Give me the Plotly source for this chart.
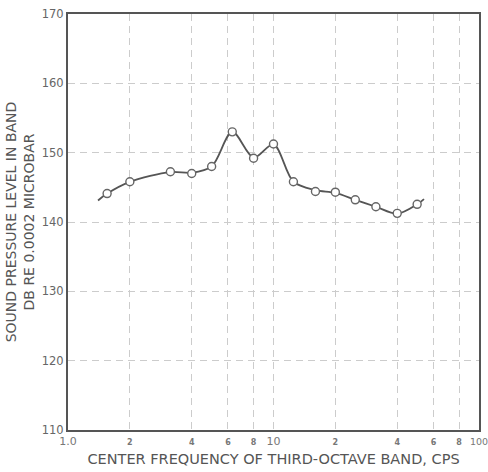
import plotly.graph_objects as go

# Measured third-octave band data
freq = [1.55, 2, 3.15, 4, 5, 6.3, 8, 10, 12.5, 16, 20, 25, 31.5, 40, 50]
spl = [144.1, 145.8, 147.25, 147.0, 148.0, 153.0, 149.2, 151.25, 145.8, 144.4, 144.3, 143.2, 142.2, 141.25, 142.55]

# Faired curve through the data (with its drawn ends)
curve_freq = [1.4, 1.55, 2, 3.15, 4, 5, 6.3, 8, 10, 12.5, 16, 20, 25, 31.5, 40, 50, 54]
curve_spl = [143.1, 144.1, 145.8, 147.2, 147.1, 148.0, 153.0, 149.3, 151.2, 145.8, 144.6, 144.2, 143.2, 142.2, 141.2, 142.55, 143.3]

x_tickvals = [1, 2, 4, 6, 8, 10, 20, 40, 60, 80, 100]
x_ticktext = ["1.0", "2", "4", "6", "8", "10", "2", "4", "6", "8", "100"]
y_tickvals = [110, 120, 130, 140, 150, 160, 170]

FONT = "DejaVu Sans"
INK = "#555555"
GRID = "#cccccc"

small = lambda t: f"<span style='font-size:8px;font-weight:bold'>{t}</span>"
def fmt(t):
    if t == "100":
        return "<span style='font-size:9.5px'>100</span>"
    if t in ("1.0", "10"):
        return t
    return small(t)
xt = [fmt(t) for t in x_ticktext]

fig = go.Figure()
fig.add_trace(go.Scatter(
    x=curve_freq, y=curve_spl, mode="lines",
    line=dict(color=INK, width=1.8, shape="spline", smoothing=0.9),
    hoverinfo="skip", showlegend=False))
fig.add_trace(go.Scatter(
    x=freq, y=spl, mode="markers",
    marker=dict(symbol="circle", size=8, color="white",
                line=dict(color="#666666", width=1.4)),
    showlegend=False))

fig.update_layout(
    width=488, height=472,
    margin=dict(l=68, r=9, t=14, b=42),
    paper_bgcolor="white", plot_bgcolor="white",
    font=dict(family=FONT, color=INK, size=11),
    xaxis=dict(
        type="log", range=[0, 2], automargin=False,
        tickvals=x_tickvals, ticktext=xt, ticklabeloverflow="allow",
        ticks="", tickfont=dict(size=11, color="#777777"),
        showgrid=True, gridcolor=GRID, gridwidth=1, griddash="7px,5px",
        showline=True, linecolor=INK, linewidth=2, mirror=True,
        zeroline=False,
        title=dict(text="CENTER FREQUENCY OF THIRD-OCTAVE BAND, CPS",
                   font=dict(size=14.5, color=INK), standoff=7),
    ),
    yaxis=dict(
        range=[110, 170], tickvals=y_tickvals, automargin=False,
        ticklabeloverflow="allow",
        ticks="", tickfont=dict(size=11.5, color="#666666"),
        showgrid=True, gridcolor=GRID, gridwidth=1, griddash="7px,5px",
        showline=True, linecolor=INK, linewidth=2, mirror=True,
        zeroline=False,
        title=dict(text="SOUND PRESSURE LEVEL IN BAND<br>DB RE 0.0002 MICROBAR",
                   font=dict(size=14, color=INK), standoff=4),
    ),
)

fig.write_html("out.html")
